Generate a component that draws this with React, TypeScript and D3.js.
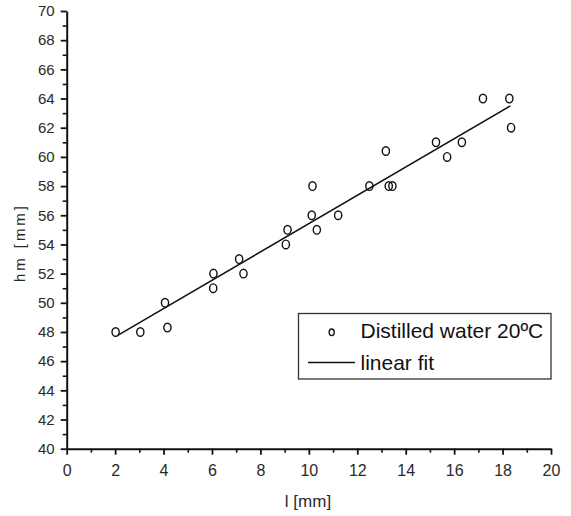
import React, { useEffect, useRef } from 'react';
import * as d3 from 'd3';

// measured points (l, hm) for distilled water at 20ºC
const lValues = [2.02, 3.04, 4.06, 4.16, 6.06, 6.05, 7.12, 7.3, 9.05, 9.12, 10.12, 10.33, 10.15, 11.21, 12.5, 13.18, 13.3, 13.45, 15.25, 15.71, 16.32, 17.19, 18.28, 18.35];
const hmValues = [48, 48, 50, 48.3, 52, 51, 53, 52, 54, 55, 56, 55, 58, 56, 58, 60.4, 58, 58, 61, 60, 61, 64, 64, 62];

// linear fit endpoints
const fitL = [2.09, 18.32];
const fitHm = [47.75, 63.5];

const xTicks = [0, 2, 4, 6, 8, 10, 12, 14, 16, 18, 20];
const yTicks = [40, 42, 44, 46, 48, 50, 52, 54, 56, 58, 60, 62, 64, 66, 68, 70];

const seriesLabel = 'Distilled water 20ºC';
const fitLabel = 'linear fit';

const FONT = '"Liberation Sans", Arial, sans-serif';

const App = () => {
  const svgRef = useRef(null);

  useEffect(() => {
    const svg = d3.select(svgRef.current);
    svg.selectAll('*').remove();

    const x = d3.scaleLinear().domain([0, 20]).range([66.7, 551]);
    const y = d3.scaleLinear().domain([40, 70]).range([448.7, 11]);

    // minor ticks
    svg.append('g')
      .attr('transform', `translate(0, ${y(40)})`)
      .call(d3.axisBottom(x).tickValues(d3.range(1, 20, 2)).tickSize(4).tickFormat(() => '').tickSizeOuter(0))
      .call(g => g.select('.domain').remove())
      .call(g => g.selectAll('line').attr('stroke-width', 1.6).attr('stroke', '#111'));

    svg.append('g')
      .attr('transform', `translate(${x(0)}, 0)`)
      .call(d3.axisLeft(y).tickValues(d3.range(41, 70, 2)).tickSize(4).tickFormat(() => '').tickSizeOuter(0))
      .call(g => g.select('.domain').remove())
      .call(g => g.selectAll('line').attr('stroke-width', 1.6).attr('stroke', '#111'));

    // major ticks + labels
    const xAxis = svg.append('g')
      .attr('transform', `translate(0, ${y(40)})`)
      .call(d3.axisBottom(x).tickValues(xTicks).tickSize(6).tickSizeOuter(0).tickPadding(10));
    xAxis.select('.domain').attr('stroke-width', 2).attr('stroke', '#111');
    xAxis.selectAll('line').attr('stroke-width', 1.8).attr('stroke', '#111');
    xAxis.selectAll('text')
      .attr('font-family', FONT)
      .attr('font-size', 16)
      .attr('fill', '#2a2a2a');

    const yAxis = svg.append('g')
      .attr('transform', `translate(${x(0)}, 0)`)
      .call(d3.axisLeft(y).tickValues(yTicks).tickSize(6).tickSizeOuter(0).tickPadding(6));
    yAxis.select('.domain').attr('stroke-width', 2).attr('stroke', '#111');
    yAxis.selectAll('line').attr('stroke-width', 1.8).attr('stroke', '#111');
    yAxis.selectAll('text')
      .attr('font-family', FONT)
      .attr('font-size', 15)
      .attr('fill', '#2a2a2a');

    // fit line
    const line = d3.line()
      .x(d => x(d[0]))
      .y(d => y(d[1]));
    svg.append('path')
      .datum(fitL.map((l, i) => [l, fitHm[i]]))
      .attr('fill', 'none')
      .attr('stroke', '#111')
      .attr('stroke-width', 1.5)
      .attr('d', line);

    // data markers
    svg.append('g')
      .selectAll('ellipse')
      .data(lValues.map((l, i) => [l, hmValues[i]]))
      .enter().append('ellipse')
      .attr('cx', d => x(d[0]))
      .attr('cy', d => y(d[1]))
      .attr('rx', 3.6)
      .attr('ry', 4.3)
      .attr('fill', 'none')
      .attr('stroke', '#111')
      .attr('stroke-width', 1.4);

    // legend
    const legend = svg.append('g');
    legend.append('rect')
      .attr('x', 298.5)
      .attr('y', 313.5)
      .attr('width', 252.5)
      .attr('height', 65.5)
      .attr('fill', 'white')
      .attr('stroke', '#333')
      .attr('stroke-width', 1.3);
    legend.append('ellipse')
      .attr('cx', 331.7)
      .attr('cy', 332.3)
      .attr('rx', 2.6)
      .attr('ry', 3.3)
      .attr('fill', 'none')
      .attr('stroke', '#111')
      .attr('stroke-width', 1.3);
    legend.append('text')
      .attr('x', 360.5)
      .attr('y', 337.5)
      .attr('font-family', FONT)
      .attr('font-size', 21)
      .attr('fill', '#111')
      .text(seriesLabel);
    legend.append('line')
      .attr('x1', 308)
      .attr('x2', 355)
      .attr('y1', 362.5)
      .attr('y2', 362.5)
      .attr('stroke', '#111')
      .attr('stroke-width', 1.3);
    legend.append('text')
      .attr('x', 360.5)
      .attr('y', 369.5)
      .attr('font-family', FONT)
      .attr('font-size', 21)
      .attr('fill', '#111')
      .text(fitLabel);

    // axis titles
    svg.append('text')
      .attr('x', 308)
      .attr('y', 507)
      .attr('text-anchor', 'middle')
      .attr('font-family', FONT)
      .attr('font-size', 17)
      .attr('fill', '#2a2a2a')
      .text('l [mm]');

    svg.append('text')
      .attr('transform', 'translate(25, 244) rotate(-90)')
      .attr('text-anchor', 'middle')
      .attr('font-family', FONT)
      .attr('font-size', 15)
      .attr('fill', '#2a2a2a')
      .attr('textLength', 76)
      .attr('lengthAdjust', 'spacing')
      .text('hm [mm]');
  });

  return (
    <svg ref={svgRef} width="571" height="516" style={{ position: 'absolute', left: 0, top: 0, background: 'white' }}></svg>
  );
};

export default App;
